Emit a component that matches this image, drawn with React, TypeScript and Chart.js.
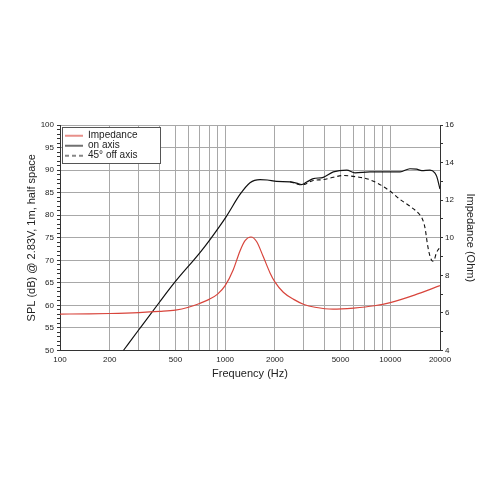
import React, { useEffect, useRef } from 'react';
import { Chart, registerables } from 'chart.js';

Chart.register(...registerables);

// ---- data ----
const impedanceFreq = [100, 150, 200, 300, 400, 500, 600, 700, 800, 900, 1000, 1120, 1230, 1320, 1434, 1550, 1700, 1870, 2000, 2250, 2600, 3000, 3500, 4500, 6000, 8000, 10000, 14000, 20000];
const impedanceOhm = [5.94, 5.95, 5.97, 6.02, 6.08, 6.15, 6.3, 6.5, 6.72, 7.0, 7.45, 8.3, 9.3, 9.85, 10.04, 9.8, 9.0, 8.13, 7.65, 7.1, 6.72, 6.45, 6.3, 6.2, 6.26, 6.38, 6.55, 6.95, 7.45];

const onAxisFreq = [242, 300, 400, 500, 700, 810, 1020, 1230, 1414, 1626, 1800, 2050, 2470, 2710, 2900, 3100, 3420, 3930, 4520, 5450, 6110, 7530, 10000, 11460, 13150, 14440, 15500, 17400, 18600, 19100, 20000];
const onAxisSpl = [50, 54.6, 60.7, 65.3, 71.6, 74.6, 79.8, 84.6, 87.2, 87.9, 87.8, 87.5, 87.4, 87.1, 86.8, 87.3, 88.1, 88.4, 89.6, 90.0, 89.4, 89.6, 89.6, 89.6, 90.3, 90.2, 89.9, 90.0, 89.4, 88.6, 85.8];

const offAxisFreq = [2470, 2900, 3420, 3930, 4520, 5190, 5700, 6260, 7190, 8270, 10000, 11460, 13150, 15100, 15500, 16230, 16800, 17400, 18050, 18500, 19000, 20000];
const offAxisSpl = [87.4, 86.7, 87.7, 87.9, 88.4, 88.8, 88.7, 88.5, 88.1, 87.2, 85.3, 83.5, 82.0, 80.1, 79.5, 77.2, 73.5, 70.9, 69.8, 70.2, 71.6, 72.9];

const xGridValues = [100, 200, 300, 400, 500, 600, 700, 800, 900, 1000, 2000, 3000, 4000, 5000, 6000, 7000, 8000, 9000, 10000, 20000];
const xLabelValues = [100, 200, 500, 1000, 2000, 5000, 10000, 20000];

const seriesLabels = ['Impedance', 'on axis', '45° off axis'];
const xTitle = 'Frequency (Hz)';
const yTitle = 'SPL (dB) @ 2.83V, 1m, half space';
const y2Title = 'Impedance (Ohm)';

const FONT = "'Liberation Sans', Arial, Helvetica, sans-serif";
const TEXT = '#222';
const AXIS = '#333';
const GRID = '#a8a8a8';
const RED = '#d8453c';
const BLACK = '#111';

function makeSwatch(color: string, dash: number[], width: number) {
  const c = document.createElement('canvas');
  c.width = 18;
  c.height = 4;
  const g = c.getContext('2d');
  if (g) {
    g.strokeStyle = color;
    g.lineWidth = width;
    g.setLineDash(dash);
    g.beginPath();
    g.moveTo(0, 2);
    g.lineTo(18, 2);
    g.stroke();
  }
  return c;
}

export default function App() {
  const ref = useRef<HTMLCanvasElement>(null);

  useEffect(() => {
    const canvas = ref.current;
    if (!canvas) return;
    const toPts = (xs: number[], ys: number[]) => xs.map((x, i) => ({ x, y: ys[i] }));

    const legendFrame = {
      id: 'legendFrame',
      afterLayout(chart: any) {
        const lg = chart.legend;
        if (!lg) return;
        const area = chart.chartArea;
        lg.left = area.left + 5;
        lg.right = lg.left + lg.width;
        lg.top = area.top + 5.7;
        lg.bottom = lg.top + lg.height;
      },
      beforeDatasetsDraw(chart: any) {
        const lg = chart.legend;
        if (!lg || !lg.legendHitBoxes || !lg.legendHitBoxes.length) return;
        const hb = lg.legendHitBoxes;
        const l = Math.round(Math.min(...hb.map((h: any) => h.left)) - 3) + 0.5;
        const t = Math.round(Math.min(...hb.map((h: any) => h.top)) - 3.7) + 0.5;
        const r = Math.round(Math.max(...hb.map((h: any) => h.left + h.width)) + 23) + 0.5;
        const b = Math.round(Math.max(...hb.map((h: any) => h.top + h.height)) + 2) + 0.5;
        const ctx = chart.ctx;
        ctx.save();
        ctx.fillStyle = '#ffffff';
        ctx.fillRect(l, t, r - l, b - t);
        ctx.strokeStyle = '#555';
        ctx.lineWidth = 1;
        ctx.strokeRect(l, t, r - l, b - t);
        ctx.restore();
        lg.draw();
      },
    };

    const chart = new Chart(canvas, {
      type: 'line',
      data: {
        datasets: [
          {
            label: seriesLabels[0],
            data: toPts(impedanceFreq, impedanceOhm),
            yAxisID: 'y2',
            borderColor: RED,
            borderWidth: 1.2,
            pointStyle: makeSwatch(RED, [], 1.2),
          },
          {
            label: seriesLabels[1],
            data: toPts(onAxisFreq, onAxisSpl),
            yAxisID: 'y',
            borderColor: BLACK,
            borderWidth: 1.2,
            pointStyle: makeSwatch(BLACK, [], 1.2),
          },
          {
            label: seriesLabels[2],
            data: toPts(offAxisFreq, offAxisSpl),
            yAxisID: 'y',
            borderColor: BLACK,
            borderWidth: 1.1,
            borderDash: [4, 3],
            pointStyle: makeSwatch(BLACK, [4, 3], 1.1),
          },
        ] as any,
      },
      options: {
        responsive: false,
        animation: false,
        events: [],
        elements: {
          point: { radius: 0 },
          line: { cubicInterpolationMode: 'monotone', fill: false },
        },
        layout: { padding: { left: 0, right: 0, top: 125, bottom: 119.5 } },
        plugins: {
          tooltip: { enabled: false },
          legend: {
            position: 'chartArea' as any,
            align: 'start',
            labels: {
              usePointStyle: true,
              pointStyleWidth: 18,
              boxHeight: 10,
              padding: 0,
              color: TEXT,
              font: { family: FONT, size: 10 },
            },
          },
        },
        scales: {
          x: {
            type: 'logarithmic',
            min: 100,
            max: 20000,
            afterBuildTicks: (s: any) => {
              s.ticks = xGridValues.map((v) => ({ value: v }));
            },
            afterFit: (s: any) => {
              s.height = 30;
            },
            ticks: {
              autoSkip: false,
              maxRotation: 0,
              padding: 4,
              color: TEXT,
              font: { family: FONT, size: 8 },
              callback: (v: any) => (xLabelValues.includes(Number(v)) ? String(v) : ''),
            },
            grid: { color: GRID, drawTicks: false, lineWidth: 1 },
            border: { color: AXIS, width: 1 },
            title: {
              display: true,
              text: xTitle,
              color: TEXT,
              font: { family: FONT, size: 11 },
              padding: 0,
            },
          },
          y: {
            position: 'left',
            min: 50,
            max: 100,
            afterFit: (s: any) => {
              s.width = 60;
            },
            ticks: {
              stepSize: 1,
              autoSkip: false,
              padding: 3,
              color: TEXT,
              font: { family: FONT, size: 8 },
              callback: (v: any) => (Number(v) % 5 === 0 ? String(v) : ''),
            },
            grid: {
              color: (c: any) => (c.tick && c.tick.value % 5 === 0 ? GRID : 'rgba(0,0,0,0)'),
              tickColor: AXIS,
              tickLength: 3,
              lineWidth: 1,
            },
            border: { color: AXIS, width: 1 },
            title: {
              display: true,
              text: yTitle,
              color: TEXT,
              font: { family: FONT, size: 11 },
              padding: { top: 25.4, bottom: 0 },
            },
          },
          y2: {
            position: 'right',
            min: 4,
            max: 16,
            afterFit: (s: any) => {
              s.width = 60;
            },
            ticks: {
              stepSize: 1,
              autoSkip: false,
              padding: 2,
              color: TEXT,
              font: { family: FONT, size: 8 },
              callback: (v: any) => (Number(v) % 2 === 0 ? String(v) : ''),
            },
            grid: { drawOnChartArea: false, color: AXIS, tickColor: AXIS, tickLength: 3 },
            border: { color: AXIS, width: 1 },
            title: {
              display: true,
              text: y2Title,
              color: TEXT,
              font: { family: FONT, size: 11 },
              padding: { top: 23.4, bottom: 0 },
            },
          },
        },
      } as any,
      plugins: [legendFrame],
    });

    return () => {
      chart.destroy();
    };
  }, []);

  return (
    <div style={{ position: 'absolute', left: 0, top: 0, width: 500, height: 500, background: '#fff' }}>
      <canvas ref={ref} width={500} height={500} style={{ display: 'block', width: 500, height: 500 }} />
    </div>
  );
}
